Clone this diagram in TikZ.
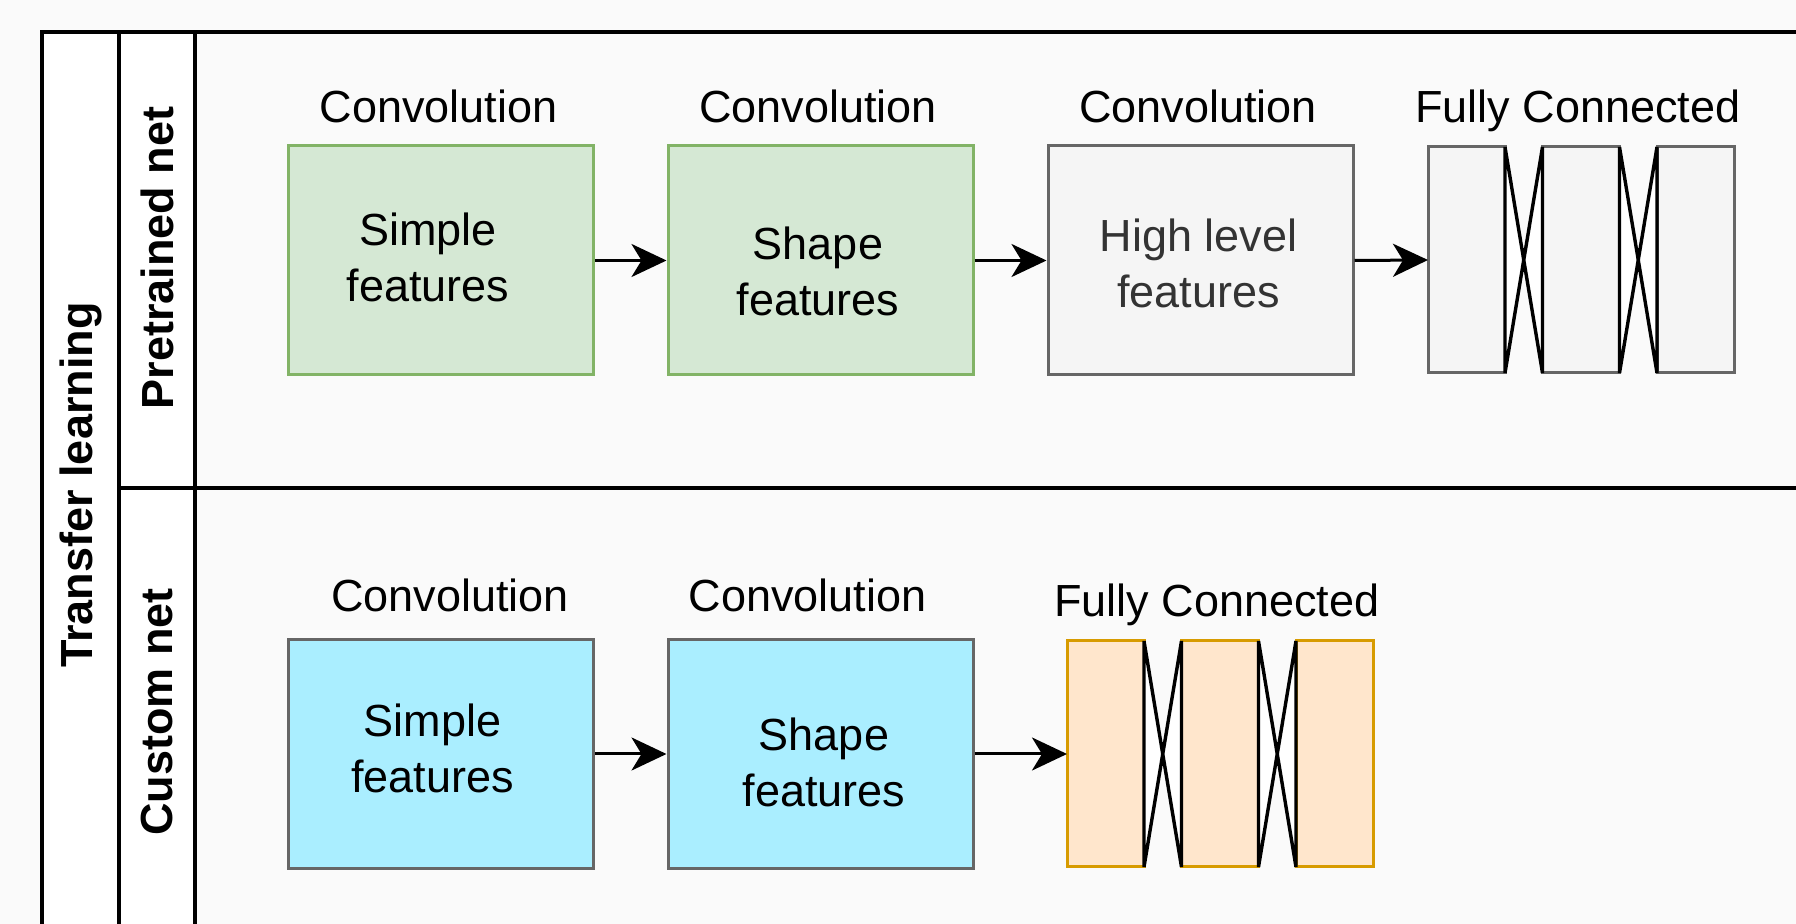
\documentclass[tikz,border=0pt]{standalone}
\usepackage{fontspec}
\setmainfont{Liberation Sans}
\usepackage{xcolor}
\usetikzlibrary{arrows.meta}
\definecolor{pagebg}{HTML}{FAFAFA}
\definecolor{greenfill}{HTML}{D5E8D4}
\definecolor{greendraw}{HTML}{82B366}
\definecolor{grayfill}{HTML}{F5F5F5}
\definecolor{graydraw}{HTML}{666666}
\definecolor{graytext}{HTML}{333333}
\definecolor{cyanfill}{HTML}{AAEEFF}
\definecolor{orangefill}{HTML}{FFE6CC}
\definecolor{orangedraw}{HTML}{D79B00}

\begin{document}
\begin{tikzpicture}[x=0.5pt,y=-0.5pt,
  lane/.style={draw=black,line width=1.7pt},
  head/.style={font=\fontsize{22.5}{28}\selectfont\bfseries,rotate=90,inner sep=0pt},
  caption/.style={font=\fontsize{22.5}{28}\selectfont,inner sep=0pt},
  boxtext/.style={font=\fontsize{22.5}{28}\selectfont,align=center,inner sep=0pt},
  conv/.style={draw,line width=1.5pt,minimum width=152.5pt,minimum height=114.5pt},
  fc/.style={draw,line width=1.5pt,minimum width=38.5pt,minimum height=113pt,
    inner sep=0pt,outer sep=0pt},
  xline/.style={draw=black,fill=white,line width=1.7pt},
  flow/.style={line width=1.5pt,-{Stealth[length=17.5pt,width=16.5pt,inset=5pt]}}]
% ---- page and pool frame
\useasboundingbox (0,0) rectangle (1796,924);
\fill[pagebg] (0,0) rectangle (1796,924);
\fill[white] (42,32) rectangle (195,930);
\draw[lane] (1800,32) -- (42,32) -- (42,930);
\draw[lane] (119,32) -- (119,930);
\draw[lane] (195,32) -- (195,930);
\draw[lane] (119,488) -- (1800,488);
% ---- lane headers
\node[head] (pool) at (80.5,485) {Transfer learning};
\node[head] (pre) at (157,258) {Pretrained net};
\node[head] (cust) at (157,712) {Custom net};
% ---- pretrained lane
\node[conv,fill=greenfill,draw=greendraw] (c1) at (441,260.5) {};
\node[conv,fill=greenfill,draw=greendraw] (c2) at (820.5,260.5) {};
\node[conv,fill=grayfill,draw=graydraw] (c3) at (1200.5,260.5) {};
\node[boxtext] (c1t) at (428,257) {Simple\\features};
\node[boxtext] (c2t) at (818,271) {Shape\\features};
\node[boxtext,text=graytext] (c3t) at (1198.7,263) {High level\\features};
\foreach \i in {0,1,2}
  \node[fc,fill=grayfill,draw=graydraw] (fa\i) at ({1466.5+114.5*\i},260) {};
\foreach \i/\j in {0/1,1/2}
  \filldraw[xline] (fa\i.north east) -- (fa\j.south west) -- (fa\j.north west) -- (fa\i.south east) -- cycle;
\node[caption] (t1) at (438.7,106.5) {Convolution};
\node[caption] (t2) at (818,106.5) {Convolution};
\node[caption] (t3) at (1198,106.5) {Convolution};
\node[caption] (t4) at (1578,110.5) {Fully Connected};
\draw[flow] (c1.east) -- (c2.west);
\draw[flow] (c2.east) -- (c3.west);
\draw[flow] (c3.east) -- (fa0.west);
% ---- custom lane
\node[conv,fill=cyanfill,draw=graydraw] (d1) at (441,754) {};
\node[conv,fill=cyanfill,draw=graydraw] (d2) at (820.5,754) {};
\node[boxtext] (d1t) at (432.4,748.5) {Simple\\features};
\node[boxtext] (d2t) at (824,762) {Shape\\features};
\foreach \i in {0,1,2}
  \node[fc,fill=orangefill,draw=orangedraw] (fb\i) at ({1105.5+114.5*\i},754) {};
\foreach \i/\j in {0/1,1/2}
  \filldraw[xline] (fb\i.north east) -- (fb\j.south west) -- (fb\j.north west) -- (fb\i.south east) -- cycle;
\node[caption] (u1) at (450,595.6) {Convolution};
\node[caption] (u2) at (807.5,595.6) {Convolution};
\node[caption] (u3) at (1217,604.5) {Fully Connected};
\draw[flow] (d1.east) -- (d2.west);
\draw[flow] (d2.east) -- (fb0.west);
\end{tikzpicture}
\end{document}
